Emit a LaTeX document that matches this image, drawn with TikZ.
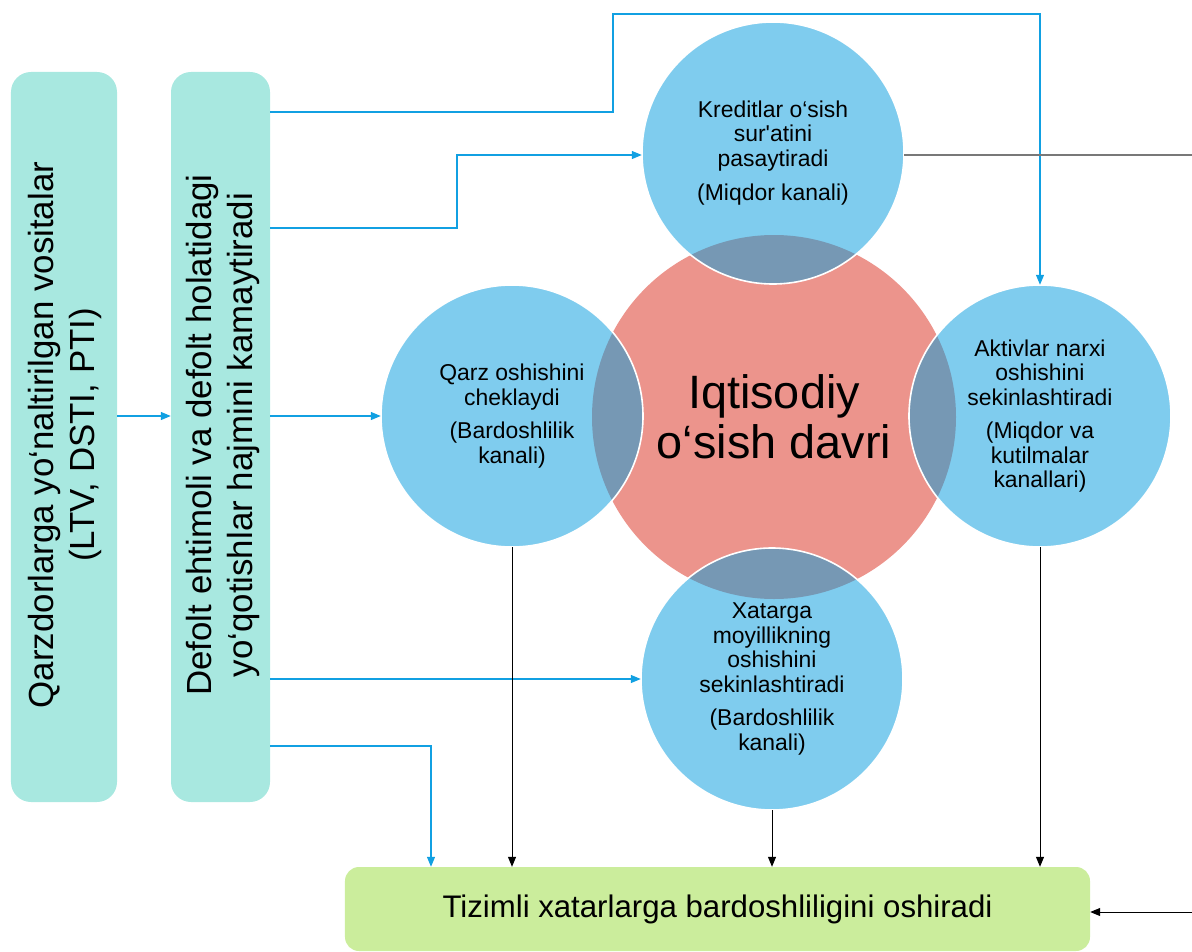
\documentclass[tikz,border=0pt]{standalone}
\usepackage{fontspec}
\setmainfont{Liberation Sans}[Ligatures=TeXOff]
\usetikzlibrary{arrows.meta,backgrounds,calc}
\definecolor{boxc}{RGB}{168,232,224}
\definecolor{greenc}{RGB}{203,237,156}
\definecolor{bluec}{RGB}{127,204,238}
\definecolor{redc}{RGB}{236,148,140}
\definecolor{ovc}{RGB}{118,152,180}
\definecolor{linec}{RGB}{17,160,226}
\definecolor{grayc}{RGB}{120,120,120}
\tikzset{
  tbox/.style={rounded corners=20bp, fill=boxc, inner sep=0pt},
  ctext/.style={align=center, font=\fontsize{23}{24.5}\selectfont, circle, minimum size=262bp, inner sep=0pt},
  vtext/.style={rotate=90, align=center, font=\fontsize{35}{41}\selectfont, inner sep=0pt},
  barrow/.style={draw=linec, line width=1.2bp, -{Triangle[length=10bp,width=8bp]}},
  karrow/.style={draw=black, line width=1bp, -{Triangle[length=10bp,width=8bp]}},
  gline/.style={draw=grayc, line width=1.8bp}
}
\begin{document}
\begin{tikzpicture}[x=1bp,y=-1bp]
\useasboundingbox (0,0) rectangle (1192,952);
% boxes
\node[tbox, minimum width=106bp, minimum height=730bp] (b1) at (64,437) {};
\node[tbox, minimum width=99bp, minimum height=730bp] (b2) at (220.5,437) {};
\node[vtext] (t1) at (65,435) {Qarzdorlarga yo‘naltirilgan vositalar\\(LTV, DSTI, PTI)};
\node[vtext] (t2) at (223,435) {Defolt ehtimoli va defolt holatidagi\\yo‘qotishlar hajmini kamaytiradi};
\node[rounded corners=14bp, fill=greenc, minimum width=745bp, minimum height=84bp, inner sep=0pt,
      font=\fontsize{31.3}{36}\selectfont] (bb) at (717.5,909) {Tizimli xatarlarga bardoshliligini oshiradi};
% circles (text nodes)
\node[circle, minimum size=364bp, inner sep=0pt, align=center, font=\fontsize{47}{50}\selectfont] (iqt) at (774,417) {Iqtisodiy\\o‘sish davri};
\node[ctext] (kred) at (773,153) {Kreditlar o‘sish\\sur'atini\\pasaytiradi\\[10bp](Miqdor kanali)};
\node[ctext] (qarz) at (512,416) {Qarz oshishini\\cheklaydi\\[9bp](Bardoshlilik\\kanali)};
\node[ctext] (aktiv) at (1040,416) {Aktivlar narxi\\oshishini\\sekinlashtiradi\\[9bp](Miqdor va\\kutilmalar\\kanallari)};
\node[ctext] (xatar) at (772,679) {Xatarga\\moyillikning\\oshishini\\sekinlashtiradi\\[9bp](Bardoshlilik\\kanali)};
% fills
\begin{scope}[on background layer]
  \fill[redc] (iqt.center) circle[radius=182];
  \foreach \n in {kred,qarz,aktiv,xatar} { \fill[bluec] (\n.center) circle[radius=131]; }
  \begin{scope}
    \clip (iqt.center) circle[radius=182];
    \foreach \n in {kred,qarz,aktiv,xatar} { \fill[ovc] (\n.center) circle[radius=131]; }
  \end{scope}
  \foreach \n in {kred,qarz,aktiv,xatar} { \draw[white, line width=1.6bp] (\n.center) circle[radius=131]; }
\end{scope}
% coordinates
\coordinate (r1) at (0,112);
\coordinate (jA) at (613,14);
\coordinate (r2) at (0,228);
\coordinate (jK) at (457,155);
\coordinate (jB) at (431,746);
\coordinate (edgeR) at (1192,155);
\coordinate (edgeB) at (1192,912);
% connectors
\draw[barrow] (b1.east |- qarz.west) -- (b2.west |- qarz.west);
\draw[barrow] (b2.east |- r1) -| (jA) -| (aktiv.north);
\draw[barrow] (b2.east |- r2) -| (jK) -- (kred.west |- jK);
\draw[barrow] (b2.east |- qarz.west) -- (qarz.west);
\draw[barrow] (b2.east |- xatar.west) -- (xatar.west);
\draw[barrow] (b2.east |- jB) -- (jB) -- (jB |- bb.north);
\draw[karrow] (qarz.south) -- (qarz.south |- bb.north);
\draw[karrow] (xatar.south) -- (xatar.south |- bb.north);
\draw[karrow] (aktiv.south) -- (aktiv.south |- bb.north);
\draw[gline] (kred.east |- edgeR) -- (edgeR);
\draw[karrow] (edgeB) -- (bb.east |- edgeB);
\end{tikzpicture}
\end{document}
